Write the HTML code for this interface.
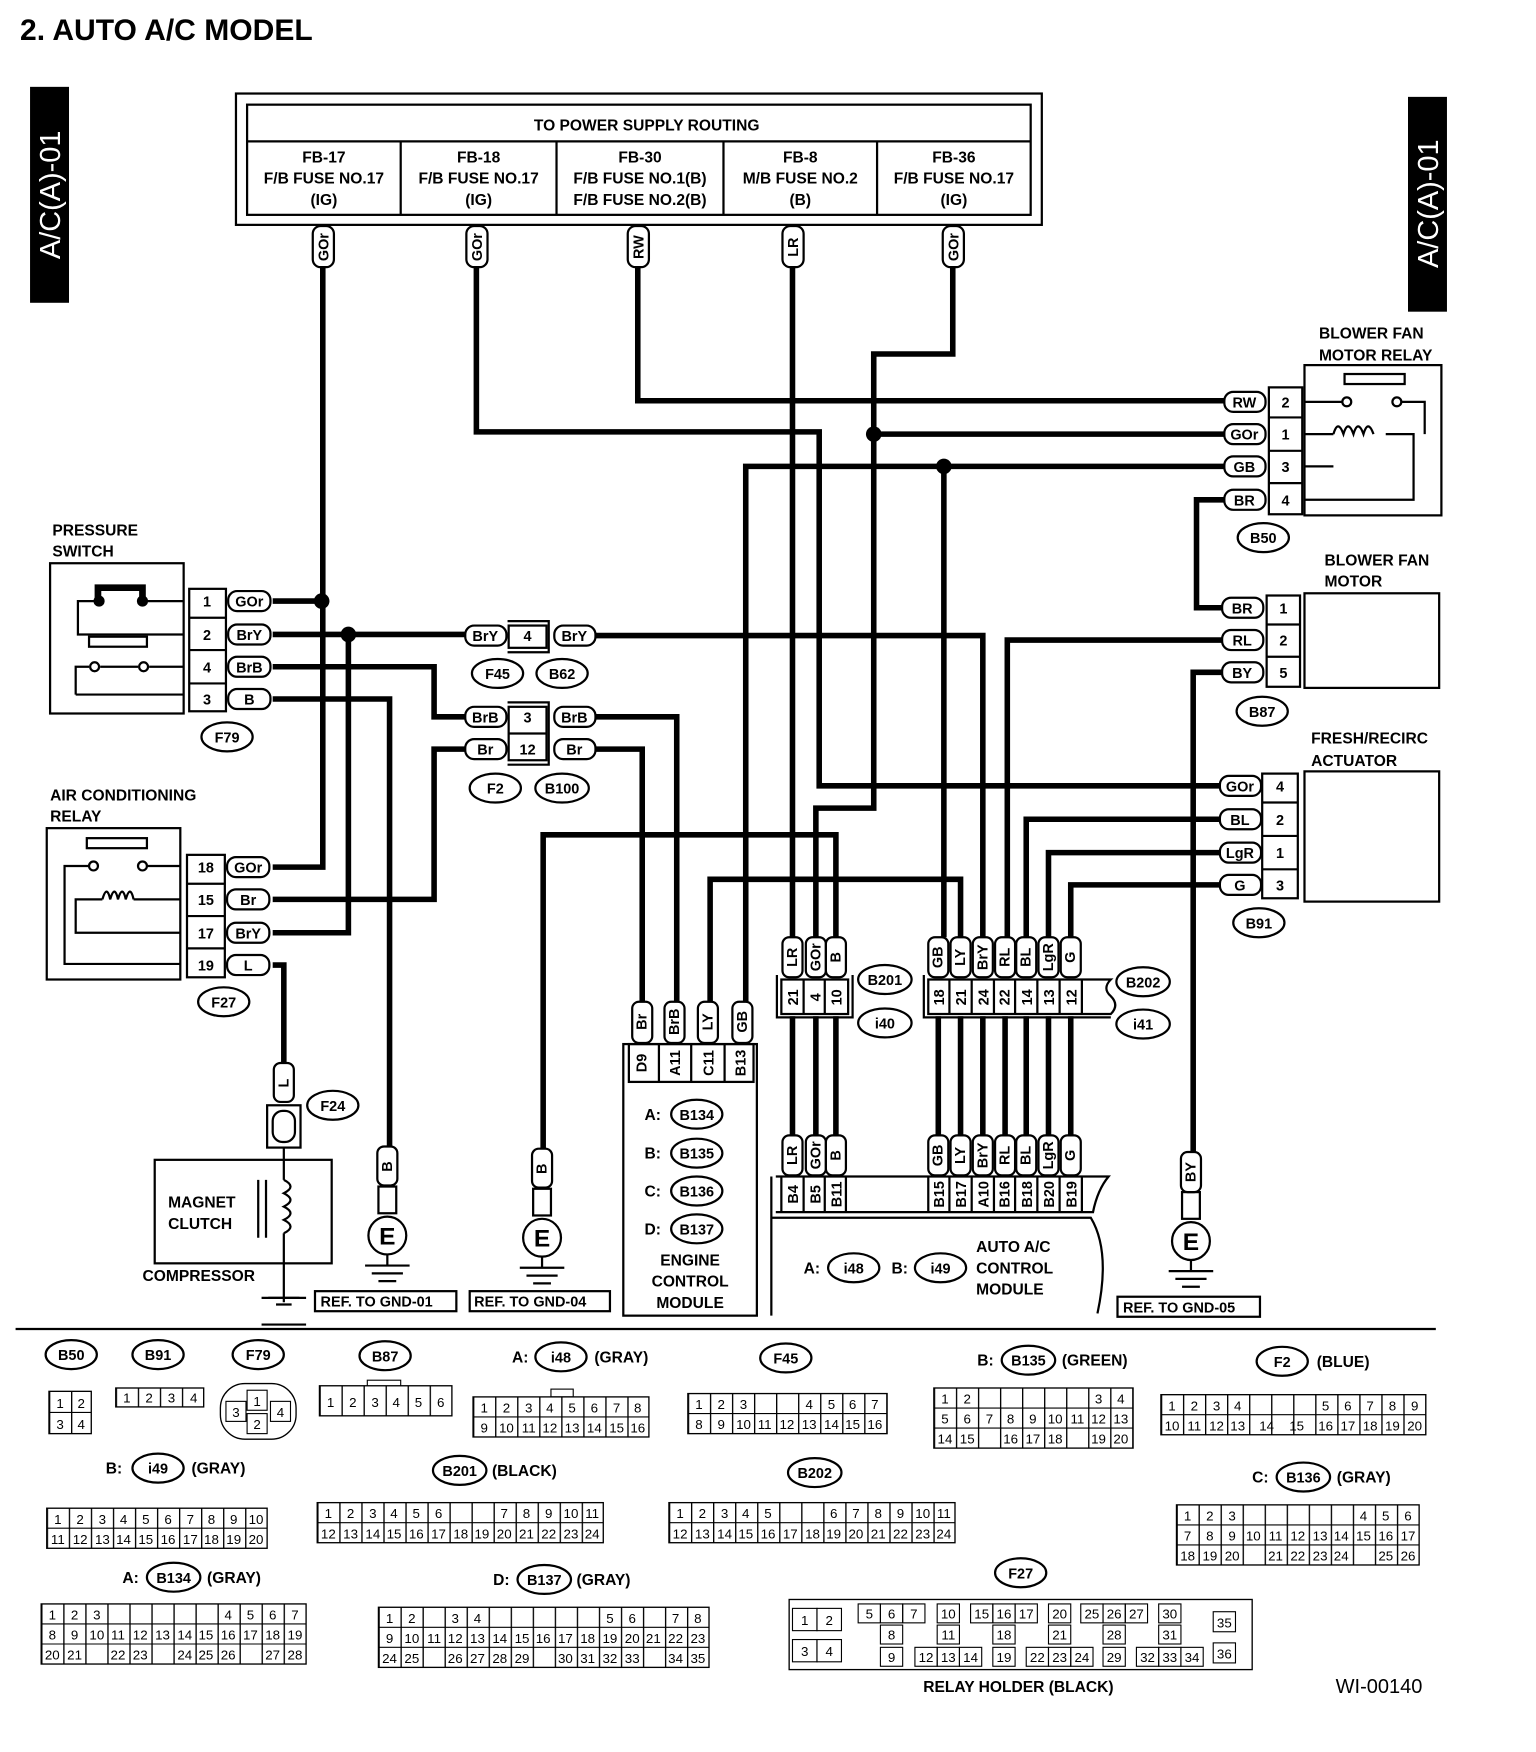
<!DOCTYPE html>
<html><head><meta charset="utf-8"><style>
html,body{margin:0;padding:0;background:#fff}
svg{display:block}
.w{stroke:#000;stroke-width:5;fill:none}
.b{stroke:#000;stroke-width:2;fill:none}
.t{font-family:"Liberation Sans",sans-serif;font-weight:bold;font-size:14px}
.s{font-family:"Liberation Sans",sans-serif;font-weight:bold;font-size:13px}
.n{font-family:"Liberation Sans",sans-serif;font-size:12px}
.p{fill:#fff;stroke:#000;stroke-width:2}
</style></head><body>
<svg width="1536" height="1752" viewBox="0 0 1380 1574" xmlns="http://www.w3.org/2000/svg">
<defs>
<pattern id="c20" width="19.8" height="200" patternUnits="userSpaceOnUse"><rect width="19.8" height="200" fill="#fff"/><line x1="0.6" y1="0" x2="0.6" y2="200" stroke="#000" stroke-width="1.2"/></pattern>
</defs>
<text x="18" y="36" style="font-family:'Liberation Sans',sans-serif;font-weight:bold;font-size:27px">2.  AUTO A/C MODEL</text>
<rect x="27" y="78" width="35" height="194" fill="#000"/>
<text transform="translate(54,175) rotate(-90)" text-anchor="middle" fill="#fff" style="font-family:'Liberation Sans',sans-serif;font-size:26px">A/C(A)-01</text>
<rect x="1265" y="87" width="35" height="193" fill="#000"/>
<text transform="translate(1292,183) rotate(-90)" text-anchor="middle" fill="#fff" style="font-family:'Liberation Sans',sans-serif;font-size:26px">A/C(A)-01</text>

<!-- top box -->
<rect x="212" y="84" width="724" height="118" class="b"/>
<rect x="222" y="94" width="704" height="99" class="b"/>
<line x1="222" y1="127" x2="926" y2="127" class="b"/>
<g class="b"><line x1="360" y1="127" x2="360" y2="193"/><line x1="500" y1="127" x2="500" y2="193"/><line x1="650" y1="127" x2="650" y2="193"/><line x1="788" y1="127" x2="788" y2="193"/></g>
<g class="t" text-anchor="middle">
<text x="581" y="117">TO POWER SUPPLY ROUTING</text>
<text x="291" y="146">FB-17</text><text x="291" y="165">F/B FUSE NO.17</text><text x="291" y="184">(IG)</text>
<text x="430" y="146">FB-18</text><text x="430" y="165">F/B FUSE NO.17</text><text x="430" y="184">(IG)</text>
<text x="575" y="146">FB-30</text><text x="575" y="165">F/B FUSE NO.1(B)</text><text x="575" y="184">F/B FUSE NO.2(B)</text>
<text x="719" y="146">FB-8</text><text x="719" y="165">M/B FUSE NO.2</text><text x="719" y="184">(B)</text>
<text x="857" y="146">FB-36</text><text x="857" y="165">F/B FUSE NO.17</text><text x="857" y="184">(IG)</text>
</g>

<!-- wires -->
<g class="w">
<path d="M290 240V779H245M245 540H290"/>
<path d="M428 240V388H736V706H1100"/>
<path d="M856 240V318H785V726H733V842M785 390H1100"/>
<path d="M573 240V360H1100"/>
<path d="M712 240V842"/>
<path d="M670 900V419H1100M848 419V842"/>
<path d="M1100 449H1075V546H1100"/>
<path d="M1100 575H905V842"/>
<path d="M1100 604H1072V1035"/>
<path d="M245 570H418M535 571H883V842M313 570V838H245"/>
<path d="M245 599H390V644H418M535 644H608V900"/>
<path d="M245 628H350V1030"/>
<path d="M245 808H390V673H418M535 673H577V900"/>
<path d="M245 867H255V955"/>
<path d="M488 1032V750H751V842"/>
<path d="M638 900V790H863V842"/>
<path d="M1100 736H922V842M1100 766H942V842M1100 795H962V842"/>
<path d="M712 913V1020M733 913V1020M751 913V1020M843 913V1020M863 913V1020M883 913V1020M903 913V1020M922 913V1020M942 913V1020M962 913V1020"/>
</g>
<g fill="#000"><circle cx="289" cy="540" r="7"/><circle cx="313" cy="570" r="7"/><circle cx="785" cy="390" r="7"/><circle cx="848" cy="419" r="7"/></g>

<!-- top vertical pills -->
<g class="s" text-anchor="middle">
<g><rect x="281" y="203" width="19" height="37" rx="7" class="p"/><text transform="translate(295,222) rotate(-90)">GOr</text></g>
<g><rect x="419" y="203" width="19" height="37" rx="7" class="p"/><text transform="translate(433,222) rotate(-90)">GOr</text></g>
<g><rect x="564" y="203" width="19" height="37" rx="7" class="p"/><text transform="translate(578,222) rotate(-90)">RW</text></g>
<g><rect x="703" y="203" width="19" height="37" rx="7" class="p"/><text transform="translate(717,222) rotate(-90)">LR</text></g>
<g><rect x="847" y="203" width="19" height="37" rx="7" class="p"/><text transform="translate(861,222) rotate(-90)">GOr</text></g>
</g>

<!-- blower fan motor relay -->
<g class="t"><text x="1185" y="304">BLOWER FAN</text><text x="1185" y="324">MOTOR RELAY</text></g>
<rect x="1172" y="328" width="123" height="135" class="b"/>
<rect x="1140" y="348" width="30" height="114" class="b"/>
<g class="b"><line x1="1140" y1="375" x2="1170" y2="375"/><line x1="1140" y1="405" x2="1170" y2="405"/><line x1="1140" y1="434" x2="1170" y2="434"/></g>
<rect x="1208" y="336" width="54" height="9" class="b"/>
<g class="b"><circle cx="1210" cy="361" r="4"/><circle cx="1255" cy="361" r="4"/><path d="M1172 361H1206M1259 361H1280V390M1172 390H1198M1245 390H1270V449H1172M1172 419H1198"/><path d="M1198 390q4-14 9 0q4-14 9 0q4-14 9 0q4-14 9 0"/></g>
<g class="s" text-anchor="middle">
<rect x="1100" y="352" width="37" height="18" rx="8" class="p"/><text x="1118" y="366">RW</text><text x="1155" y="366">2</text>
<rect x="1100" y="381" width="37" height="18" rx="8" class="p"/><text x="1118" y="395">GOr</text><text x="1155" y="395">1</text>
<rect x="1100" y="410" width="37" height="18" rx="8" class="p"/><text x="1118" y="424">GB</text><text x="1155" y="424">3</text>
<rect x="1100" y="440" width="37" height="18" rx="8" class="p"/><text x="1118" y="454">BR</text><text x="1155" y="454">4</text>
</g>
<ellipse cx="1135" cy="483" rx="23" ry="13" class="b"/><text x="1135" y="488" class="s" text-anchor="middle">B50</text>

<!-- blower fan motor -->
<g class="t"><text x="1190" y="508">BLOWER FAN</text><text x="1190" y="527">MOTOR</text></g>
<rect x="1172" y="533" width="121" height="85" class="b"/>
<rect x="1138" y="535" width="30" height="82" class="b"/>
<g class="b"><line x1="1138" y1="561" x2="1168" y2="561"/><line x1="1138" y1="590" x2="1168" y2="590"/></g>
<g class="s" text-anchor="middle">
<rect x="1098" y="537" width="37" height="18" rx="8" class="p"/><text x="1116" y="551">BR</text><text x="1153" y="551">1</text>
<rect x="1098" y="566" width="37" height="18" rx="8" class="p"/><text x="1116" y="580">RL</text><text x="1153" y="580">2</text>
<rect x="1098" y="595" width="37" height="18" rx="8" class="p"/><text x="1116" y="609">BY</text><text x="1153" y="609">5</text>
</g>
<ellipse cx="1134" cy="639" rx="23" ry="13" class="b"/><text x="1134" y="644" class="s" text-anchor="middle">B87</text>

<!-- actuator -->
<g class="t"><text x="1178" y="668">FRESH/RECIRC</text><text x="1178" y="688">ACTUATOR</text></g>
<rect x="1172" y="693" width="121" height="117" class="b"/>
<rect x="1134" y="695" width="32" height="112" class="b"/>
<g class="b"><line x1="1134" y1="721" x2="1166" y2="721"/><line x1="1134" y1="751" x2="1166" y2="751"/><line x1="1134" y1="781" x2="1166" y2="781"/></g>
<g class="s" text-anchor="middle">
<rect x="1096" y="697" width="37" height="18" rx="8" class="p"/><text x="1114" y="711">GOr</text><text x="1150" y="711">4</text>
<rect x="1096" y="727" width="37" height="18" rx="8" class="p"/><text x="1114" y="741">BL</text><text x="1150" y="741">2</text>
<rect x="1096" y="757" width="37" height="18" rx="8" class="p"/><text x="1114" y="771">LgR</text><text x="1150" y="771">1</text>
<rect x="1096" y="786" width="37" height="18" rx="8" class="p"/><text x="1114" y="800">G</text><text x="1150" y="800">3</text>
</g>
<ellipse cx="1131" cy="829" rx="23" ry="13" class="b"/><text x="1131" y="834" class="s" text-anchor="middle">B91</text>

<!-- pressure switch -->
<g class="t"><text x="47" y="481">PRESSURE</text><text x="47" y="500">SWITCH</text></g>
<rect x="45" y="506" width="120" height="135" class="b"/>
<rect x="170" y="529" width="33" height="110" class="b"/>
<g class="b"><line x1="170" y1="555" x2="203" y2="555"/><line x1="170" y1="584" x2="203" y2="584"/><line x1="170" y1="614" x2="203" y2="614"/></g>
<g class="b"><path d="M165 540H130M88 540H70V570H165M68 624V599H80M90 599H124M134 599H165M68 624H165"/><circle cx="85" cy="599" r="4"/><circle cx="129" cy="599" r="4"/><rect x="80" y="572" width="52" height="9"/></g>
<path d="M88 540V528H128V540" stroke="#000" stroke-width="6" fill="none"/><circle cx="89" cy="540" r="5"/><circle cx="128" cy="540" r="5"/>
<g class="s" text-anchor="middle">
<text x="186" y="545">1</text><rect x="205" y="531" width="38" height="18" rx="8" class="p"/><text x="224" y="545">GOr</text>
<text x="186" y="575">2</text><rect x="205" y="561" width="38" height="18" rx="8" class="p"/><text x="224" y="575">BrY</text>
<text x="186" y="604">4</text><rect x="205" y="590" width="38" height="18" rx="8" class="p"/><text x="224" y="604">BrB</text>
<text x="186" y="633">3</text><rect x="205" y="619" width="38" height="18" rx="8" class="p"/><text x="224" y="633">B</text>
</g>
<ellipse cx="204" cy="662" rx="23" ry="13" class="b"/><text x="204" y="667" class="s" text-anchor="middle">F79</text>

<!-- A/C relay -->
<g class="t"><text x="45" y="719">AIR CONDITIONING</text><text x="45" y="738">RELAY</text></g>
<rect x="42" y="744" width="120" height="136" class="b"/>
<rect x="168" y="768" width="34" height="110" class="b"/>
<g class="b"><line x1="168" y1="794" x2="202" y2="794"/><line x1="168" y1="823" x2="202" y2="823"/><line x1="168" y1="852" x2="202" y2="852"/></g>
<g class="b"><rect x="78" y="753" width="54" height="9"/><circle cx="84" cy="778" r="4"/><circle cx="128" cy="778" r="4"/><path d="M80 778H58V866H162M132 778H162M162 808H120M92 808H68V838H162"/><path d="M92 808q4-14 7 0q4-14 7 0q4-14 7 0q4-14 7 0"/></g>
<g class="s" text-anchor="middle">
<text x="185" y="784">18</text><rect x="204" y="770" width="38" height="18" rx="8" class="p"/><text x="223" y="784">GOr</text>
<text x="185" y="813">15</text><rect x="204" y="799" width="38" height="18" rx="8" class="p"/><text x="223" y="813">Br</text>
<text x="185" y="843">17</text><rect x="204" y="829" width="38" height="18" rx="8" class="p"/><text x="223" y="843">BrY</text>
<text x="185" y="872">19</text><rect x="204" y="858" width="38" height="18" rx="8" class="p"/><text x="223" y="872">L</text>
</g>
<ellipse cx="201" cy="900" rx="23" ry="13" class="b"/><text x="201" y="905" class="s" text-anchor="middle">F27</text>

<!-- F45/B62 and F2/B100 -->
<g class="b"><rect x="457" y="562" width="34" height="20"/><path d="M456 558H493V586H456"/><rect x="457" y="635" width="34" height="48"/><line x1="457" y1="659" x2="491" y2="659"/><path d="M456 631H493V687H456"/></g>
<g class="s" text-anchor="middle">
<rect x="418" y="562" width="37" height="18" rx="8" class="p"/><text x="436" y="576">BrY</text><text x="474" y="576">4</text>
<rect x="498" y="562" width="37" height="18" rx="8" class="p"/><text x="516" y="576">BrY</text>
<rect x="418" y="635" width="37" height="18" rx="8" class="p"/><text x="436" y="649">BrB</text><text x="474" y="649">3</text>
<rect x="498" y="635" width="37" height="18" rx="8" class="p"/><text x="516" y="649">BrB</text>
<rect x="418" y="664" width="37" height="18" rx="8" class="p"/><text x="436" y="678">Br</text><text x="474" y="678">12</text>
<rect x="498" y="664" width="37" height="18" rx="8" class="p"/><text x="516" y="678">Br</text>
</g>
<g class="b"><ellipse cx="447" cy="605" rx="23" ry="13"/><ellipse cx="505" cy="605" rx="23" ry="13"/><ellipse cx="445" cy="708" rx="23" ry="13"/><ellipse cx="505" cy="708" rx="24" ry="13"/></g>
<g class="s" text-anchor="middle"><text x="447" y="610">F45</text><text x="505" y="610">B62</text><text x="445" y="713">F2</text><text x="505" y="713">B100</text></g>

<!-- B201 / B202 -->
<g class="s" text-anchor="middle">
<rect x="703" y="842" width="18" height="36" rx="6" class="p"/><text transform="translate(716,860) rotate(-90)">LR</text>
<rect x="724" y="842" width="18" height="36" rx="6" class="p"/><text transform="translate(737,860) rotate(-90)">GOr</text>
<rect x="742" y="842" width="18" height="36" rx="6" class="p"/><text transform="translate(755,860) rotate(-90)">B</text>
<rect x="834" y="842" width="18" height="36" rx="6" class="p"/><text transform="translate(847,860) rotate(-90)">GB</text>
<rect x="854" y="842" width="18" height="36" rx="6" class="p"/><text transform="translate(867,860) rotate(-90)">LY</text>
<rect x="874" y="842" width="18" height="36" rx="6" class="p"/><text transform="translate(887,860) rotate(-90)">BrY</text>
<rect x="894" y="842" width="18" height="36" rx="6" class="p"/><text transform="translate(907,860) rotate(-90)">RL</text>
<rect x="913" y="842" width="18" height="36" rx="6" class="p"/><text transform="translate(926,860) rotate(-90)">BL</text>
<rect x="933" y="842" width="18" height="36" rx="6" class="p"/><text transform="translate(946,860) rotate(-90)">LgR</text>
<rect x="953" y="842" width="18" height="36" rx="6" class="p"/><text transform="translate(966,860) rotate(-90)">G</text>
</g>
<g class="b"><rect x="702" y="880" width="60" height="31"/><path d="M698 876V914H766V876"/><line x1="722" y1="880" x2="722" y2="911"/><line x1="741" y1="880" x2="741" y2="911"/>
<path d="M834 880H998q-8 8 0 15q8 8 0 16H834Z"/><path d="M830 876V914H998"/>
<line x1="853" y1="880" x2="853" y2="911"/><line x1="873" y1="880" x2="873" y2="911"/><line x1="893" y1="880" x2="893" y2="911"/><line x1="912" y1="880" x2="912" y2="911"/><line x1="932" y1="880" x2="932" y2="911"/><line x1="952" y1="880" x2="952" y2="911"/><line x1="972" y1="880" x2="972" y2="911"/></g>
<g class="s" text-anchor="middle">
<text transform="translate(717,896) rotate(-90)">21</text><text transform="translate(737,896) rotate(-90)">4</text><text transform="translate(756,896) rotate(-90)">10</text>
<text transform="translate(848,896) rotate(-90)">18</text><text transform="translate(868,896) rotate(-90)">21</text><text transform="translate(888,896) rotate(-90)">24</text><text transform="translate(907,896) rotate(-90)">22</text><text transform="translate(927,896) rotate(-90)">14</text><text transform="translate(947,896) rotate(-90)">13</text><text transform="translate(967,896) rotate(-90)">12</text>
</g>
<g class="b"><ellipse cx="795" cy="880" rx="24" ry="13"/><ellipse cx="795" cy="919" rx="24" ry="13"/><ellipse cx="1027" cy="882" rx="24" ry="13"/><ellipse cx="1027" cy="920" rx="24" ry="13"/></g>
<g class="s" text-anchor="middle"><text x="795" y="885">B201</text><text x="795" y="924">i40</text><text x="1027" y="887">B202</text><text x="1027" y="925">i41</text></g>

<!-- lower pills & auto A/C module -->
<g class="s" text-anchor="middle">
<rect x="703" y="1020" width="18" height="36" rx="6" class="p"/><text transform="translate(716,1038) rotate(-90)">LR</text>
<rect x="724" y="1020" width="18" height="36" rx="6" class="p"/><text transform="translate(737,1038) rotate(-90)">GOr</text>
<rect x="742" y="1020" width="18" height="36" rx="6" class="p"/><text transform="translate(755,1038) rotate(-90)">B</text>
<rect x="834" y="1020" width="18" height="36" rx="6" class="p"/><text transform="translate(847,1038) rotate(-90)">GB</text>
<rect x="854" y="1020" width="18" height="36" rx="6" class="p"/><text transform="translate(867,1038) rotate(-90)">LY</text>
<rect x="874" y="1020" width="18" height="36" rx="6" class="p"/><text transform="translate(887,1038) rotate(-90)">BrY</text>
<rect x="894" y="1020" width="18" height="36" rx="6" class="p"/><text transform="translate(907,1038) rotate(-90)">RL</text>
<rect x="913" y="1020" width="18" height="36" rx="6" class="p"/><text transform="translate(926,1038) rotate(-90)">BL</text>
<rect x="933" y="1020" width="18" height="36" rx="6" class="p"/><text transform="translate(946,1038) rotate(-90)">LgR</text>
<rect x="953" y="1020" width="18" height="36" rx="6" class="p"/><text transform="translate(966,1038) rotate(-90)">G</text>
</g>
<g class="b"><path d="M697 1057H996q-10 12-14 32H697"/><path d="M693 1057V1182"/><path d="M693 1094H980q18 30 6 86"/>
<line x1="702" y1="1057" x2="702" y2="1089"/><line x1="722" y1="1057" x2="722" y2="1089"/><line x1="741" y1="1057" x2="741" y2="1089"/><line x1="760" y1="1057" x2="760" y2="1089"/>
<line x1="834" y1="1057" x2="834" y2="1089"/><line x1="853" y1="1057" x2="853" y2="1089"/><line x1="873" y1="1057" x2="873" y2="1089"/><line x1="893" y1="1057" x2="893" y2="1089"/><line x1="912" y1="1057" x2="912" y2="1089"/><line x1="932" y1="1057" x2="932" y2="1089"/><line x1="952" y1="1057" x2="952" y2="1089"/><line x1="972" y1="1057" x2="972" y2="1089"/></g>
<g class="s" text-anchor="middle">
<text transform="translate(717,1073) rotate(-90)">B4</text><text transform="translate(737,1073) rotate(-90)">B5</text><text transform="translate(756,1073) rotate(-90)">B11</text>
<text transform="translate(848,1073) rotate(-90)">B15</text><text transform="translate(868,1073) rotate(-90)">B17</text><text transform="translate(888,1073) rotate(-90)">A10</text><text transform="translate(907,1073) rotate(-90)">B16</text><text transform="translate(927,1073) rotate(-90)">B18</text><text transform="translate(947,1073) rotate(-90)">B20</text><text transform="translate(967,1073) rotate(-90)">B19</text>
</g>
<g class="t"><text x="722" y="1144">A:</text><text x="801" y="1144">B:</text><text x="877" y="1125">AUTO A/C</text><text x="877" y="1144">CONTROL</text><text x="877" y="1163">MODULE</text></g>
<g class="b"><ellipse cx="767" cy="1139" rx="23" ry="13"/><ellipse cx="845" cy="1139" rx="23" ry="13"/></g>
<g class="s" text-anchor="middle"><text x="767" y="1144">i48</text><text x="845" y="1144">i49</text></g>

<!-- ECM -->
<g class="s" text-anchor="middle">
<rect x="568" y="900" width="18" height="37" rx="6" class="p"/><text transform="translate(581,918) rotate(-90)">Br</text>
<rect x="597" y="900" width="18" height="37" rx="6" class="p"/><text transform="translate(610,918) rotate(-90)">BrB</text>
<rect x="627" y="900" width="18" height="37" rx="6" class="p"/><text transform="translate(640,918) rotate(-90)">LY</text>
<rect x="658" y="900" width="18" height="37" rx="6" class="p"/><text transform="translate(671,918) rotate(-90)">GB</text>
</g>
<g class="b"><rect x="560" y="938" width="120" height="244"/><rect x="565" y="938" width="112" height="34"/><line x1="592" y1="938" x2="592" y2="972"/><line x1="621" y1="938" x2="621" y2="972"/><line x1="651" y1="938" x2="651" y2="972"/></g>
<g class="s" text-anchor="middle">
<text transform="translate(581,955) rotate(-90)">D9</text><text transform="translate(611,955) rotate(-90)">A11</text><text transform="translate(641,955) rotate(-90)">C11</text><text transform="translate(670,955) rotate(-90)">B13</text>
</g>
<g class="b"><ellipse cx="626" cy="1001" rx="23" ry="13"/><ellipse cx="626" cy="1036" rx="23" ry="13"/><ellipse cx="626" cy="1070" rx="23" ry="13"/><ellipse cx="626" cy="1104" rx="23" ry="13"/></g>
<g class="t"><text x="579" y="1006">A:</text><text x="579" y="1041">B:</text><text x="579" y="1075">C:</text><text x="579" y="1109">D:</text></g>
<g class="s" text-anchor="middle"><text x="626" y="1006">B134</text><text x="626" y="1041">B135</text><text x="626" y="1075">B136</text><text x="626" y="1109">B137</text></g>
<g class="t" text-anchor="middle"><text x="620" y="1137">ENGINE</text><text x="620" y="1156">CONTROL</text><text x="620" y="1175">MODULE</text></g>

<!-- grounds -->
<g class="s" text-anchor="middle">
<rect x="339" y="1030" width="18" height="35" rx="6" class="p"/><text transform="translate(352,1048) rotate(-90)">B</text>
<rect x="478" y="1032" width="18" height="35" rx="6" class="p"/><text transform="translate(491,1050) rotate(-90)">B</text>
<rect x="1061" y="1035" width="18" height="36" rx="6" class="p"/><text transform="translate(1074,1053) rotate(-90)">BY</text>
</g>
<g class="b">
<rect x="340" y="1066" width="16" height="24"/><circle cx="348" cy="1110" r="17"/><path d="M348 1127V1136M328 1137H368M334 1144H362M340 1151H356"/>
<rect x="479" y="1068" width="16" height="24"/><circle cx="487" cy="1112" r="17"/><path d="M487 1129V1138M467 1139H507M473 1146H501M479 1153H495"/>
<rect x="1062" y="1071" width="16" height="24"/><circle cx="1070" cy="1115" r="17"/><path d="M1070 1132V1141M1050 1142H1090M1056 1149H1084M1062 1156H1078"/>
</g>
<g style="font-family:'Liberation Sans',sans-serif;font-weight:bold;font-size:22px" text-anchor="middle"><text x="348" y="1118">E</text><text x="487" y="1120">E</text><text x="1070" y="1123">E</text></g>
<g class="b"><rect x="283" y="1160" width="127" height="18"/><rect x="422" y="1160" width="126" height="18"/><rect x="1004" y="1165" width="128" height="18"/></g>
<g class="s"><text x="288" y="1174">REF. TO GND-01</text><text x="426" y="1174">REF. TO GND-04</text><text x="1009" y="1179">REF. TO GND-05</text></g>

<!-- magnet clutch -->
<g class="s" text-anchor="middle"><rect x="246" y="955" width="18" height="35" rx="6" class="p"/><text transform="translate(259,973) rotate(-90)">L</text></g>
<g class="b"><rect x="240" y="993" width="30" height="38"/><rect x="245" y="998" width="20" height="28" rx="9"/><ellipse cx="299" cy="993" rx="23" ry="13"/>
<rect x="139" y="1042" width="159" height="93"/>
<path d="M255 1031V1060M255 1060q12 6 0 12q12 6 0 12q12 6 0 12q12 6 0 12M255 1108V1170M232 1060V1112M239 1060V1112M235 1190H275M241 1166H269M248 1172H262"/></g>
<path d="M235 1166H275" stroke="#000" stroke-width="2"/>
<text x="299" y="998" class="s" text-anchor="middle">F24</text>
<g class="t"><text x="151" y="1085">MAGNET</text><text x="151" y="1104">CLUTCH</text><text x="128" y="1151">COMPRESSOR</text></g>

<line x1="14" y1="1194" x2="1290" y2="1194" stroke="#000" stroke-width="2"/>

<!-- connector legends row1 -->
<g class="b"><ellipse cx="64" cy="1217" rx="23" ry="13"/><ellipse cx="142" cy="1217" rx="23" ry="13"/><ellipse cx="232" cy="1217" rx="23" ry="13"/><ellipse cx="346" cy="1218" rx="23" ry="13"/><ellipse cx="504" cy="1219" rx="23" ry="13"/><ellipse cx="706" cy="1220" rx="23" ry="13"/><ellipse cx="924" cy="1222" rx="24" ry="13"/><ellipse cx="1152" cy="1223" rx="23" ry="13"/></g>
<g class="s" text-anchor="middle"><text x="64" y="1222">B50</text><text x="142" y="1222">B91</text><text x="232" y="1222">F79</text><text x="346" y="1223">B87</text><text x="504" y="1224">i48</text><text x="706" y="1225">F45</text><text x="924" y="1227">B135</text><text x="1152" y="1228">F2</text></g>
<g class="t"><text x="460" y="1224">A:</text><text x="534" y="1224">(GRAY)</text><text x="878" y="1227">B:</text><text x="954" y="1227">(GREEN)</text><text x="1183" y="1228">(BLUE)</text></g>

<g class="n" text-anchor="middle">
<g transform="translate(44,1250)"><rect width="38" height="38" fill="url(#c20)" stroke="#000" stroke-width="1.2"/><line x1="0" y1="19" x2="38" y2="19" stroke="#000"/><text y="15"><tspan x="10">1</tspan><tspan x="29">2</tspan></text><text y="34"><tspan x="10">3</tspan><tspan x="29">4</tspan></text></g>
<g transform="translate(104,1247)"><rect width="79" height="17" fill="url(#c20)" stroke="#000" stroke-width="1.2"/><text y="13"><tspan x="10">1</tspan><tspan x="30">2</tspan><tspan x="50">3</tspan><tspan x="70">4</tspan></text></g>
<g transform="translate(198,1243)"><rect width="68" height="50" rx="22" fill="#fff" stroke="#000" stroke-width="1.2"/><rect x="5" y="16" width="18" height="18" fill="none" stroke="#000"/><rect x="24" y="6" width="18" height="18" fill="none" stroke="#000"/><rect x="24" y="27" width="18" height="18" fill="none" stroke="#000"/><rect x="45" y="16" width="18" height="18" fill="none" stroke="#000"/><text x="14" y="30">3</text><text x="33" y="20">1</text><text x="33" y="41">2</text><text x="54" y="30">4</text></g>
<g transform="translate(287,1245)"><rect x="43" y="-5" width="30" height="6" fill="none" stroke="#000"/><rect width="119" height="27" fill="url(#c20)" stroke="#000" stroke-width="1.2"/><text y="19"><tspan x="10">1</tspan><tspan x="30">2</tspan><tspan x="50">3</tspan><tspan x="69">4</tspan><tspan x="89">5</tspan><tspan x="109">6</tspan></text></g>
<g transform="translate(425,1255)"><rect x="70" y="-7" width="20" height="7" fill="none" stroke="#000"/><rect width="158" height="36" fill="url(#c20)" stroke="#000" stroke-width="1.2"/><line x1="0" y1="18" x2="158" y2="18" stroke="#000"/><text y="14"><tspan x="10">1</tspan><tspan x="30">2</tspan><tspan x="50">3</tspan><tspan x="69">4</tspan><tspan x="89">5</tspan><tspan x="109">6</tspan><tspan x="129">7</tspan><tspan x="148">8</tspan></text><text y="32"><tspan x="10">9</tspan><tspan x="30">10</tspan><tspan x="50">11</tspan><tspan x="69">12</tspan><tspan x="89">13</tspan><tspan x="109">14</tspan><tspan x="129">15</tspan><tspan x="148">16</tspan></text></g>
<g transform="translate(618,1252)"><rect width="179" height="36" fill="url(#c20)" stroke="#000" stroke-width="1.2"/><line x1="0" y1="18" x2="179" y2="18" stroke="#000"/><text y="14"><tspan x="10">1</tspan><tspan x="30">2</tspan><tspan x="50">3</tspan><tspan x="109">4</tspan><tspan x="129">5</tspan><tspan x="148">6</tspan><tspan x="168">7</tspan></text><text y="32"><tspan x="10">8</tspan><tspan x="30">9</tspan><tspan x="50">10</tspan><tspan x="69">11</tspan><tspan x="89">12</tspan><tspan x="109">13</tspan><tspan x="129">14</tspan><tspan x="148">15</tspan><tspan x="168">16</tspan></text></g>
<g transform="translate(839,1247)"><rect width="179" height="54" fill="url(#c20)" stroke="#000" stroke-width="1.2"/><line x1="0" y1="18" x2="179" y2="18" stroke="#000"/><line x1="0" y1="36" x2="179" y2="36" stroke="#000"/><text y="14"><tspan x="10">1</tspan><tspan x="30">2</tspan><tspan x="148">3</tspan><tspan x="168">4</tspan></text><text y="32"><tspan x="10">5</tspan><tspan x="30">6</tspan><tspan x="50">7</tspan><tspan x="69">8</tspan><tspan x="89">9</tspan><tspan x="109">10</tspan><tspan x="129">11</tspan><tspan x="148">12</tspan><tspan x="168">13</tspan></text><text y="50"><tspan x="10">14</tspan><tspan x="30">15</tspan><tspan x="69">16</tspan><tspan x="89">17</tspan><tspan x="109">18</tspan><tspan x="148">19</tspan><tspan x="168">20</tspan></text></g>
<g transform="translate(1043,1253)"><rect width="238" height="36" fill="url(#c20)" stroke="#000" stroke-width="1.2"/><line x1="0" y1="18" x2="238" y2="18" stroke="#000"/><text y="14"><tspan x="10">1</tspan><tspan x="30">2</tspan><tspan x="50">3</tspan><tspan x="69">4</tspan><tspan x="148">5</tspan><tspan x="168">6</tspan><tspan x="188">7</tspan><tspan x="208">8</tspan><tspan x="228">9</tspan></text><text y="32"><tspan x="10">10</tspan><tspan x="30">11</tspan><tspan x="50">12</tspan><tspan x="69">13</tspan><tspan x="95">14</tspan><tspan x="122">15</tspan><tspan x="148">16</tspan><tspan x="168">17</tspan><tspan x="188">18</tspan><tspan x="208">19</tspan><tspan x="228">20</tspan></text></g>
</g>

<!-- row2 -->
<g class="b"><ellipse cx="142" cy="1319" rx="23" ry="13"/><ellipse cx="413" cy="1321" rx="24" ry="13"/><ellipse cx="732" cy="1323" rx="24" ry="13"/><ellipse cx="1171" cy="1327" rx="24" ry="13"/></g>
<g class="s" text-anchor="middle"><text x="142" y="1324">i49</text><text x="413" y="1326">B201</text><text x="732" y="1328">B202</text><text x="1171" y="1332">B136</text></g>
<g class="t"><text x="95" y="1324">B:</text><text x="172" y="1324">(GRAY)</text><text x="442" y="1326">(BLACK)</text><text x="1125" y="1332">C:</text><text x="1201" y="1332">(GRAY)</text></g>
<g class="n" text-anchor="middle">
<g transform="translate(42,1355)"><rect width="198" height="36" fill="url(#c20)" stroke="#000" stroke-width="1.2"/><line x1="0" y1="18" x2="198" y2="18" stroke="#000"/><text y="14"><tspan x="10">1</tspan><tspan x="30">2</tspan><tspan x="50">3</tspan><tspan x="69">4</tspan><tspan x="89">5</tspan><tspan x="109">6</tspan><tspan x="129">7</tspan><tspan x="148">8</tspan><tspan x="168">9</tspan><tspan x="188">10</tspan></text><text y="32"><tspan x="10">11</tspan><tspan x="30">12</tspan><tspan x="50">13</tspan><tspan x="69">14</tspan><tspan x="89">15</tspan><tspan x="109">16</tspan><tspan x="129">17</tspan><tspan x="148">18</tspan><tspan x="168">19</tspan><tspan x="188">20</tspan></text></g>
<g transform="translate(285,1350)"><rect width="257" height="36" fill="url(#c20)" stroke="#000" stroke-width="1.2"/><line x1="0" y1="18" x2="257" y2="18" stroke="#000"/><text y="14"><tspan x="10">1</tspan><tspan x="30">2</tspan><tspan x="50">3</tspan><tspan x="69">4</tspan><tspan x="89">5</tspan><tspan x="109">6</tspan><tspan x="168">7</tspan><tspan x="188">8</tspan><tspan x="208">9</tspan><tspan x="228">10</tspan><tspan x="247">11</tspan></text><text y="32"><tspan x="10">12</tspan><tspan x="30">13</tspan><tspan x="50">14</tspan><tspan x="69">15</tspan><tspan x="89">16</tspan><tspan x="109">17</tspan><tspan x="129">18</tspan><tspan x="148">19</tspan><tspan x="168">20</tspan><tspan x="188">21</tspan><tspan x="208">22</tspan><tspan x="228">23</tspan><tspan x="247">24</tspan></text></g>
<g transform="translate(601,1350)"><rect width="257" height="36" fill="url(#c20)" stroke="#000" stroke-width="1.2"/><line x1="0" y1="18" x2="257" y2="18" stroke="#000"/><text y="14"><tspan x="10">1</tspan><tspan x="30">2</tspan><tspan x="50">3</tspan><tspan x="69">4</tspan><tspan x="89">5</tspan><tspan x="148">6</tspan><tspan x="168">7</tspan><tspan x="188">8</tspan><tspan x="208">9</tspan><tspan x="228">10</tspan><tspan x="247">11</tspan></text><text y="32"><tspan x="10">12</tspan><tspan x="30">13</tspan><tspan x="50">14</tspan><tspan x="69">15</tspan><tspan x="89">16</tspan><tspan x="109">17</tspan><tspan x="129">18</tspan><tspan x="148">19</tspan><tspan x="168">20</tspan><tspan x="188">21</tspan><tspan x="208">22</tspan><tspan x="228">23</tspan><tspan x="247">24</tspan></text></g>
<g transform="translate(1057,1352)"><rect width="218" height="54" fill="url(#c20)" stroke="#000" stroke-width="1.2"/><line x1="0" y1="18" x2="218" y2="18" stroke="#000"/><line x1="0" y1="36" x2="218" y2="36" stroke="#000"/><text y="14"><tspan x="10">1</tspan><tspan x="30">2</tspan><tspan x="50">3</tspan><tspan x="168">4</tspan><tspan x="188">5</tspan><tspan x="208">6</tspan></text><text y="32"><tspan x="10">7</tspan><tspan x="30">8</tspan><tspan x="50">9</tspan><tspan x="69">10</tspan><tspan x="89">11</tspan><tspan x="109">12</tspan><tspan x="129">13</tspan><tspan x="148">14</tspan><tspan x="168">15</tspan><tspan x="188">16</tspan><tspan x="208">17</tspan></text><text y="50"><tspan x="10">18</tspan><tspan x="30">19</tspan><tspan x="50">20</tspan><tspan x="89">21</tspan><tspan x="109">22</tspan><tspan x="129">23</tspan><tspan x="148">24</tspan><tspan x="188">25</tspan><tspan x="208">26</tspan></text></g>
</g>

<!-- row3 -->
<g class="b"><ellipse cx="156" cy="1417" rx="24" ry="13"/><ellipse cx="489" cy="1419" rx="24" ry="13"/><ellipse cx="917" cy="1413" rx="23" ry="13"/></g>
<g class="s" text-anchor="middle"><text x="156" y="1422">B134</text><text x="489" y="1424">B137</text><text x="917" y="1418">F27</text></g>
<g class="t"><text x="110" y="1422">A:</text><text x="186" y="1422">(GRAY)</text><text x="443" y="1424">D:</text><text x="518" y="1424">(GRAY)</text></g>
<g class="n" text-anchor="middle">
<g transform="translate(37,1441)"><rect width="238" height="54" fill="url(#c20)" stroke="#000" stroke-width="1.2"/><line x1="0" y1="18" x2="238" y2="18" stroke="#000"/><line x1="0" y1="36" x2="238" y2="36" stroke="#000"/><text y="14"><tspan x="10">1</tspan><tspan x="30">2</tspan><tspan x="50">3</tspan><tspan x="168">4</tspan><tspan x="188">5</tspan><tspan x="208">6</tspan><tspan x="228">7</tspan></text><text y="32"><tspan x="10">8</tspan><tspan x="30">9</tspan><tspan x="50">10</tspan><tspan x="69">11</tspan><tspan x="89">12</tspan><tspan x="109">13</tspan><tspan x="129">14</tspan><tspan x="148">15</tspan><tspan x="168">16</tspan><tspan x="188">17</tspan><tspan x="208">18</tspan><tspan x="228">19</tspan></text><text y="50"><tspan x="10">20</tspan><tspan x="30">21</tspan><tspan x="69">22</tspan><tspan x="89">23</tspan><tspan x="129">24</tspan><tspan x="148">25</tspan><tspan x="168">26</tspan><tspan x="208">27</tspan><tspan x="228">28</tspan></text></g>
<g transform="translate(340,1444)"><rect width="297" height="54" fill="url(#c20)" stroke="#000" stroke-width="1.2"/><line x1="0" y1="18" x2="297" y2="18" stroke="#000"/><line x1="0" y1="36" x2="297" y2="36" stroke="#000"/><text y="14"><tspan x="10">1</tspan><tspan x="30">2</tspan><tspan x="69">3</tspan><tspan x="89">4</tspan><tspan x="208">5</tspan><tspan x="228">6</tspan><tspan x="267">7</tspan><tspan x="287">8</tspan></text><text y="32"><tspan x="10">9</tspan><tspan x="30">10</tspan><tspan x="50">11</tspan><tspan x="69">12</tspan><tspan x="89">13</tspan><tspan x="109">14</tspan><tspan x="129">15</tspan><tspan x="148">16</tspan><tspan x="168">17</tspan><tspan x="188">18</tspan><tspan x="208">19</tspan><tspan x="228">20</tspan><tspan x="247">21</tspan><tspan x="267">22</tspan><tspan x="287">23</tspan></text><text y="50"><tspan x="10">24</tspan><tspan x="30">25</tspan><tspan x="69">26</tspan><tspan x="89">27</tspan><tspan x="109">28</tspan><tspan x="129">29</tspan><tspan x="168">30</tspan><tspan x="188">31</tspan><tspan x="208">32</tspan><tspan x="228">33</tspan><tspan x="267">34</tspan><tspan x="287">35</tspan></text></g>
<g transform="translate(709,1437)"><rect width="416" height="63" fill="#fff" stroke="#000" stroke-width="1.2"/>
<g fill="none" stroke="#000"><rect x="3" y="8" width="22" height="20"/><rect x="25" y="8" width="22" height="20"/><rect x="3" y="36" width="22" height="20"/><rect x="25" y="36" width="22" height="20"/>
<rect x="62" y="4" width="20" height="17"/><rect x="82" y="4" width="20" height="17"/><rect x="102" y="4" width="20" height="17"/><rect x="82" y="23" width="20" height="17"/><rect x="82" y="43" width="20" height="17"/>
<rect x="133" y="4" width="20" height="17"/><rect x="133" y="23" width="20" height="17"/><rect x="113" y="43" width="20" height="17"/><rect x="133" y="43" width="20" height="17"/><rect x="153" y="43" width="20" height="17"/>
<rect x="163" y="4" width="20" height="17"/><rect x="183" y="4" width="20" height="17"/><rect x="203" y="4" width="20" height="17"/><rect x="183" y="23" width="20" height="17"/><rect x="183" y="43" width="20" height="17"/>
<rect x="233" y="4" width="20" height="17"/><rect x="233" y="23" width="20" height="17"/><rect x="213" y="43" width="20" height="17"/><rect x="233" y="43" width="20" height="17"/><rect x="253" y="43" width="20" height="17"/>
<rect x="262" y="4" width="20" height="17"/><rect x="282" y="4" width="20" height="17"/><rect x="302" y="4" width="20" height="17"/><rect x="282" y="23" width="20" height="17"/><rect x="282" y="43" width="20" height="17"/>
<rect x="332" y="4" width="20" height="17"/><rect x="332" y="23" width="20" height="17"/><rect x="312" y="43" width="20" height="17"/><rect x="332" y="43" width="20" height="17"/><rect x="352" y="43" width="20" height="17"/>
<rect x="381" y="11" width="20" height="18"/><rect x="381" y="39" width="20" height="18"/></g>
<text x="14" y="23">1</text><text x="36" y="23">2</text><text x="14" y="51">3</text><text x="36" y="51">4</text>
<text x="72" y="17">5</text><text x="92" y="17">6</text><text x="112" y="17">7</text><text x="92" y="36">8</text><text x="92" y="56">9</text>
<text x="143" y="17">10</text><text x="143" y="36">11</text><text x="123" y="56">12</text><text x="143" y="56">13</text><text x="163" y="56">14</text>
<text x="173" y="17">15</text><text x="193" y="17">16</text><text x="213" y="17">17</text><text x="193" y="36">18</text><text x="193" y="56">19</text>
<text x="243" y="17">20</text><text x="243" y="36">21</text><text x="223" y="56">22</text><text x="243" y="56">23</text><text x="263" y="56">24</text>
<text x="272" y="17">25</text><text x="292" y="17">26</text><text x="312" y="17">27</text><text x="292" y="36">28</text><text x="292" y="56">29</text>
<text x="342" y="17">30</text><text x="342" y="36">31</text><text x="322" y="56">32</text><text x="342" y="56">33</text><text x="362" y="56">34</text>
<text x="391" y="25">35</text><text x="391" y="53">36</text></g>
</g>
<text x="915" y="1520" class="t" text-anchor="middle">RELAY HOLDER (BLACK)</text>
<text x="1200" y="1521" style="font-family:'Liberation Sans',sans-serif;font-size:18px">WI-00140</text>
</svg>
</body></html>
